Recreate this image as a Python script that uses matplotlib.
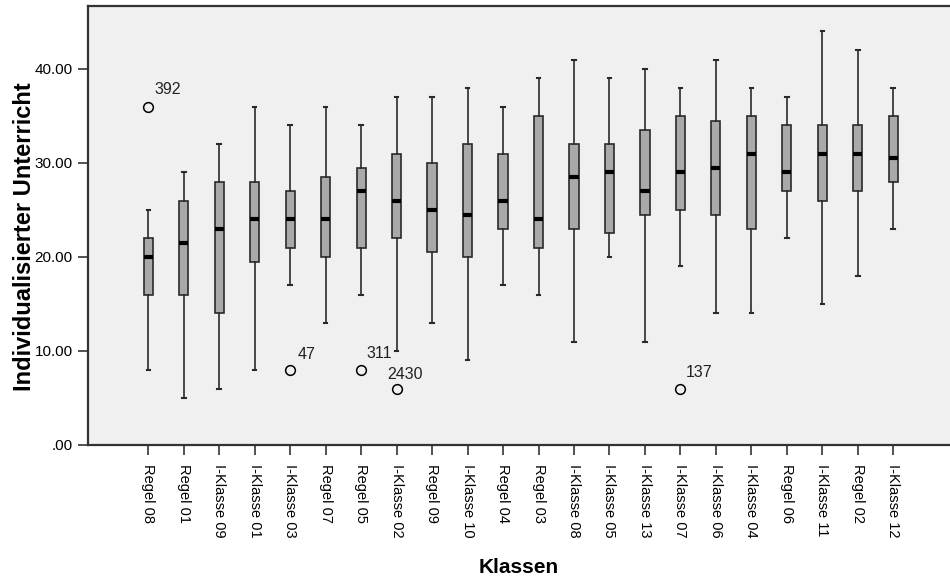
import matplotlib
matplotlib.use('Agg')
import matplotlib.pyplot as plt

plt.rcParams['font.family'] = ['Liberation Sans', 'DejaVu Sans']

klassen = ['Regel 08', 'Regel 01', 'I-Klasse 09', 'I-Klasse 01', 'I-Klasse 03', 'Regel 07',
           'Regel 05', 'I-Klasse 02', 'Regel 09', 'I-Klasse 10', 'Regel 04', 'Regel 03',
           'I-Klasse 08', 'I-Klasse 05', 'I-Klasse 13', 'I-Klasse 07', 'I-Klasse 06',
           'I-Klasse 04', 'Regel 06', 'I-Klasse 11', 'Regel 02', 'I-Klasse 12']
whisker_lo = [8, 5, 6, 8, 17, 13, 16, 10, 13, 9, 17, 16, 11, 20, 11, 19, 14, 14, 22, 15, 18, 23]
q1 = [16, 16, 14, 19.5, 21, 20, 21, 22, 20.5, 20, 23, 21, 23, 22.5, 24.5, 25, 24.5, 23, 27, 26, 27, 28]
median = [20, 21.5, 23, 24, 24, 24, 27, 26, 25, 24.5, 26, 24, 28.5, 29, 27, 29, 29.5, 31, 29, 31, 31, 30.5]
q3 = [22, 26, 28, 28, 27, 28.5, 29.5, 31, 30, 32, 31, 35, 32, 32, 33.5, 35, 34.5, 35, 34, 34, 34, 35]
whisker_hi = [25, 29, 32, 36, 34, 36, 34, 37, 37, 38, 36, 39, 41, 39, 40, 38, 41, 38, 37, 44, 42, 38]

# Ausreißer: (Klassen-Index, Wert, Fallnummer)
ausreisser = [(0, 36, '392'), (4, 8, '47'), (6, 8, '311'), (7, 6, '2430'), (15, 6, '137')]
label_offset = {'392': (6, 17), '47': (7, 15), '311': (5, 16), '2430': (-9, 14), '137': (5, 16)}

stats = []
for i, name in enumerate(klassen):
    stats.append({
        'label': name,
        'whislo': whisker_lo[i],
        'q1': q1[i],
        'med': median[i],
        'q3': q3[i],
        'whishi': whisker_hi[i],
        'fliers': [v for (k, v, _) in ausreisser if k == i],
    })

fig = plt.figure(figsize=(9.5, 5.76), dpi=100)
ax = fig.add_axes([88 / 950, 131 / 576, 862 / 950, 439 / 576])
ax.set_facecolor('#eff0ef')

pos = list(range(len(klassen)))
ax.bxp(stats, positions=pos, widths=0.26, patch_artist=True,
       boxprops=dict(facecolor='#a8a9ab', edgecolor='#2a2a2a', linewidth=1.2),
       medianprops=dict(color='black', linewidth=3),
       whiskerprops=dict(color='#2a2a2a', linewidth=1.2),
       capprops=dict(color='#2a2a2a', linewidth=1.5),
       capwidths=0.1,
       flierprops=dict(marker='o', markersize=7, markerfacecolor='none',
                       markeredgecolor='black', markeredgewidth=1.1))

for k, v, nr in ausreisser:
    ax.annotate(nr, (pos[k], v), xytext=label_offset[nr], textcoords='offset pixels',
                ha='left', va='center', fontsize=11.5, color='#222222')

ax.set_xlim(-1.7, 22.6)
ax.set_ylim(0, 46.7)
ax.set_yticks([0, 10, 20, 30, 40])
ax.set_yticklabels(['.00', '10.00', '20.00', '30.00', '40.00'])
ax.set_xticks(pos)
ax.set_xticklabels(klassen, rotation=-90, va='top', ha='center')

ax.tick_params(axis='y', length=7, width=1.2, pad=4, labelsize=11, color='#333333')
ax.tick_params(axis='x', length=7, width=1.2, pad=7, labelsize=10.5, color='#333333')

for side in ['left', 'bottom', 'top']:
    ax.spines[side].set_linewidth(1.6)
    ax.spines[side].set_color('#333333')
ax.spines['right'].set_visible(False)

ax.set_ylabel('Individualisierter Unterricht', fontsize=17, fontweight='bold')
ax.yaxis.set_label_coords(-0.06, 0.474)
ax.set_xlabel('Klassen', fontsize=15, fontweight='bold', labelpad=14)

fig.savefig('out.png', dpi=100)
